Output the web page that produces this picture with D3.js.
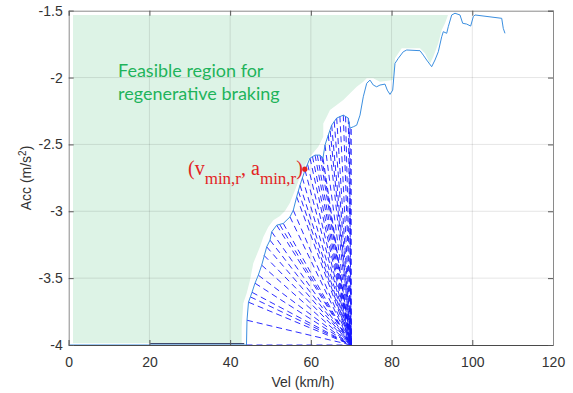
<!DOCTYPE html>
<html>
<head>
<meta charset="utf-8">
<script src="https://cdn.jsdelivr.net/npm/d3@7/dist/d3.min.js"></script>
<style>
  body { margin: 0; background: #fff; }
  svg text { font-family: "Liberation Sans", Arial, sans-serif; }
</style>
</head>
<body>
<div id="viz-wrapper"></div>
<script>
// ---- data ----
let xTicks = [0, 20, 40, 60, 80, 100, 120];
let yTicks = [-4, -3.5, -3, -2.5, -2, -1.5];

// speed profile (light blue line)
let profVel = [0, 44.05, 44.18, 44.55, 45.42, 46.16, 46.98, 47.82, 49.06, 49.88, 50.30, 51.54, 53.17, 54.83,
  55.65, 56.49, 57.31, 58.55, 59.79, 61.03, 62.27, 63.01, 63.50, 64.32, 65.16, 66.40, 68.04, 69.28, 69.70,
  70.52, 71.36, 72.18, 72.99, 73.84, 74.65, 75.47, 76.31, 77.13, 78.37, 78.94, 79.61, 80.28, 80.85, 81.67,
  82.90, 83.75, 87.04, 87.86, 88.70, 89.94, 90.76, 91.58, 92.42, 92.82, 93.66, 94.05, 94.90, 95.71, 96.95,
  97.62, 98.61, 99.60, 100.25, 100.67, 107.29, 107.68, 108.10];
let profAcc = [-4, -4, -3.815, -3.680, -3.606, -3.538, -3.478, -3.403, -3.266, -3.216, -3.154, -3.104, -3.091, -3.042,
  -2.992, -2.892, -2.805, -2.692, -2.603, -2.580, -2.580, -2.603, -2.505, -2.430, -2.356, -2.303, -2.281, -2.303, -2.378,
  -2.368, -2.356, -2.281, -2.144, -2.043, -2.019, -2.056, -2.069, -2.056, -2.049, -2.094, -2.126, -2.094, -1.894, -1.856,
  -1.807, -1.794, -1.799, -1.832, -1.869, -1.919, -1.869, -1.807, -1.695, -1.657, -1.669, -1.620, -1.532, -1.519, -1.532,
  -1.594, -1.600, -1.615, -1.545, -1.532, -1.557, -1.632, -1.669];

// extra start points of braking lines seen between the profile samples
let fanVel = [45.0, 48.4, 52.3, 56.9, 57.9, 59.2, 60.4, 61.6, 62.7, 64.8, 65.8, 67.2, 68.6, 69.5];
let fanAcc = [-3.64, -3.33, -3.10, -2.85, -2.75, -2.65, -2.59, -2.58, -2.59, -2.40, -2.33, -2.29, -2.29, -2.33];

// feasible region outline (green patch)
let feasVel = [1.07, 93.98, 93.24, 92.42, 91.58, 90.34, 89.52, 88.28, 87.04, 82.51, 80.85, 80.43, 77.13, 75.47,
  73.84, 72.99, 71.36, 68.04, 66.40, 64.74, 63.93, 63.08, 63.08, 61.84, 59.79, 58.55, 57.31, 56.07, 54.83,
  53.59, 52.35, 50.69, 49.45, 48.22, 47.40, 45.74, 44.92, 44.10, 43.26, 42.86, 42.86, 1.07];
let feasAcc = [-1.532, -1.532, -1.594, -1.644, -1.744, -1.844, -1.894, -1.819, -1.781, -1.781, -1.856, -2.019, -2.031, -2.006,
  -2.006, -2.031, -2.069, -2.168, -2.206, -2.243, -2.293, -2.343, -2.443, -2.518, -2.593, -2.655, -2.743, -2.842, -2.936,
  -2.998, -3.036, -3.067, -3.117, -3.192, -3.266, -3.388, -3.516, -3.613, -3.688, -3.865, -3.987, -3.987];

// braking lines all end at this point
let endVel = 70, endAcc = -4;
// dark segment along the bottom
let bottomVel = [20.2, 43.5], bottomAcc = [-3.99, -3.99];
// marked point
let markVel = 58.5, markAcc = -2.685;

let width = 573, height = 393;
let mLeft = 68.7, mRight = 553, mTop = 10.7, mBottom = 345;

let xScale = d3.scaleLinear().domain([0, 120]).range([mLeft, mRight]);
let yScale = d3.scaleLinear().domain([-4, -1.5]).range([mBottom, mTop]);

let svg = d3.select('#viz-wrapper')
            .append('svg')
            .attr('width', width)
            .attr('height', height);

// green feasible region
let feas = feasVel.map((v, i) => [v, feasAcc[i]]);
svg.append('path')
   .datum(feas)
   .attr('d', d3.line().x(d => xScale(d[0])).y(d => yScale(d[1])))
   .attr('fill', '#ddf3e6')
   .attr('stroke', 'none');

// grid
let grid = svg.append('g').attr('class', 'grid');
grid.selectAll('line.gx')
    .data(xTicks.slice(1, -1))
    .enter().append('line')
    .attr('x1', d => xScale(d)).attr('x2', d => xScale(d))
    .attr('y1', mTop).attr('y2', mBottom)
    .attr('stroke', '#000').attr('stroke-opacity', 0.1);
grid.selectAll('line.gy')
    .data(yTicks.slice(1, -1))
    .enter().append('line')
    .attr('y1', d => yScale(d)).attr('y2', d => yScale(d))
    .attr('x1', mLeft).attr('x2', mRight)
    .attr('stroke', '#000').attr('stroke-opacity', 0.1);

// dashed braking fan: from profile points between 44 and 70 km/h (plus the extra starts) to the end point
let fanStarts = d3.range(profVel.length)
  .filter(i => profVel[i] >= 44 && profVel[i] <= endVel)
  .map(i => [profVel[i], profAcc[i]])
  .concat(fanVel.map((v, i) => [v, fanAcc[i]]));
svg.append('g').selectAll('line')
   .data(fanStarts)
   .enter().append('line')
   .attr('x1', d => xScale(d[0]))
   .attr('y1', d => yScale(d[1]))
   .attr('x2', xScale(endVel))
   .attr('y2', yScale(endAcc))
   .attr('stroke', '#1414ff')
   .attr('stroke-width', 0.9)
   .attr('stroke-dasharray', '6,4');
// vertical edge of the fan
svg.append('line')
   .attr('x1', xScale(endVel)).attr('x2', xScale(endVel))
   .attr('y1', yScale(endAcc)).attr('y2', yScale(-2.37))
   .attr('stroke', '#1414ff')
   .attr('stroke-width', 0.9)
   .attr('stroke-dasharray', '6,4');

// dark bottom segment
svg.append('line')
   .attr('x1', xScale(bottomVel[0])).attr('x2', xScale(bottomVel[1]))
   .attr('y1', yScale(bottomAcc[0])).attr('y2', yScale(bottomAcc[1]))
   .attr('stroke', '#1d2a55')
   .attr('stroke-width', 1);

// speed profile
let prof = profVel.map((v, i) => [v, profAcc[i]]);
svg.append('path')
   .datum(prof)
   .attr('d', d3.line().x(d => xScale(d[0])).y(d => yScale(d[1])))
   .attr('fill', 'none')
   .attr('stroke', '#3b8fe0')
   .attr('stroke-width', 1);

// axes (ticks point inward, matlab style)
let xAxis = d3.axisBottom(xScale).tickValues(xTicks).tickSize(-5).tickPadding(12);
let yAxis = d3.axisLeft(yScale).tickValues(yTicks).tickFormat(d => String(d)).tickSize(-5).tickPadding(6);

let gx = svg.append('g')
   .attr('transform', 'translate(0,' + mBottom + ')')
   .call(xAxis);
let gy = svg.append('g')
   .attr('transform', 'translate(' + mLeft + ',0)')
   .call(yAxis);
let gt = svg.append('g')
   .attr('transform', 'translate(0,' + mTop + ')')
   .call(d3.axisTop(xScale).tickValues(xTicks).tickSize(-5).tickFormat(''));
let gr = svg.append('g')
   .attr('transform', 'translate(' + mRight + ',0)')
   .call(d3.axisRight(yScale).tickValues(yTicks).tickSize(-5).tickFormat(''));

[gx, gy, gt, gr].forEach(g => {
  g.select('.domain').attr('stroke', '#8a8a8a');
  g.selectAll('.tick line').attr('stroke', '#555');
  g.selectAll('text')
   .attr('fill', '#333')
   .style('font-size', '14px');
});
gx.select('.domain').attr('stroke', '#4a4a4a');

// axis labels
svg.append('text')
   .attr('x', 303).attr('y', 387)
   .attr('text-anchor', 'middle')
   .attr('fill', '#333')
   .style('font-size', '14px')
   .text('Vel (km/h)');

let ylab = svg.append('text')
   .attr('transform', 'translate(31,178) rotate(-90)')
   .attr('text-anchor', 'middle')
   .attr('fill', '#333')
   .style('font-size', '14px');
ylab.append('tspan').text('Acc (m/s');
ylab.append('tspan').attr('dy', -5).style('font-size', '10px').text('2');
ylab.append('tspan').attr('dy', 5).text(')');

// region label
let green = '#1fb35b';
svg.append('text')
   .attr('x', 118).attr('y', 77)
   .attr('fill', green)
   .style('font-family', 'Lato, "Open Sans", sans-serif')
   .style('font-size', '18px')
   .text('Feasible region for');
svg.append('text')
   .attr('x', 118).attr('y', 100)
   .attr('fill', green)
   .style('font-family', 'Lato, "Open Sans", sans-serif')
   .style('font-size', '18px')
   .text('regenerative braking');

// marked point and its label
let red = '#e3231f';
svg.append('circle')
   .attr('cx', xScale(markVel)).attr('cy', yScale(markAcc))
   .attr('r', 2.6)
   .attr('fill', red);

let lab = svg.append('text')
   .attr('x', 188).attr('y', 175)
   .attr('fill', red)
   .style('font-family', '"Liberation Serif", "Times New Roman", serif')
   .style('font-size', '20px');
lab.append('tspan').text('(v');
lab.append('tspan').attr('dy', 9).style('font-size', '17px').text('min,r');
lab.append('tspan').attr('dy', -9).text(', a');
lab.append('tspan').attr('dy', 9).style('font-size', '17px').text('min,r');
lab.append('tspan').attr('dy', -9).text(')');
</script>
</body>
</html>
